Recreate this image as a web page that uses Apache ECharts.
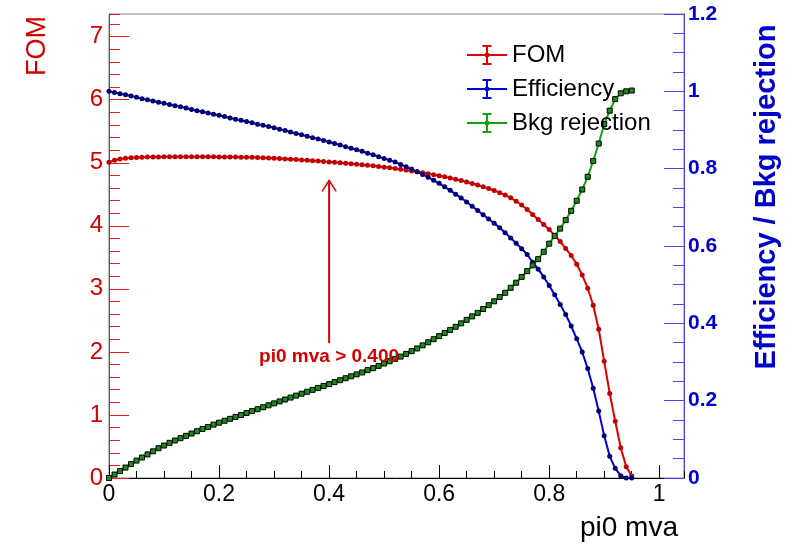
<!DOCTYPE html>
<html>
<head>
<meta charset="utf-8">
<script src="https://cdn.jsdelivr.net/npm/echarts@6/dist/echarts.min.js"></script>
<style>
html,body{margin:0;padding:0;background:#fff;}
#chart{width:792px;height:545px;}
</style>
</head>
<body>
<div id="chart"></div>
<script>
const xValues = [0.00,0.01,0.02,0.03,0.04,0.05,0.06,0.07,0.08,0.09,
  0.10,0.11,0.12,0.13,0.14,0.15,0.16,0.17,0.18,0.19,
  0.20,0.21,0.22,0.23,0.24,0.25,0.26,0.27,0.28,0.29,
  0.30,0.31,0.32,0.33,0.34,0.35,0.36,0.37,0.38,0.39,
  0.40,0.41,0.42,0.43,0.44,0.45,0.46,0.47,0.48,0.49,
  0.50,0.51,0.52,0.53,0.54,0.55,0.56,0.57,0.58,0.59,
  0.60,0.61,0.62,0.63,0.64,0.65,0.66,0.67,0.68,0.69,
  0.70,0.71,0.72,0.73,0.74,0.75,0.76,0.77,0.78,0.79,
  0.80,0.81,0.82,0.83,0.84,0.85,0.86,0.87,0.88,0.89,
  0.90,0.91,0.92,0.93,0.94,0.95];

const fomValues = [5.010,5.040,5.060,5.070,5.080,5.085,5.088,5.090,5.092,5.093,
  5.094,5.095,5.095,5.096,5.096,5.096,5.096,5.095,5.095,5.094,
  5.093,5.092,5.091,5.090,5.089,5.088,5.086,5.083,5.079,5.075,
  5.071,5.066,5.061,5.056,5.051,5.045,5.039,5.033,5.027,5.021,
  5.014,5.007,5.000,4.993,4.985,4.977,4.969,4.960,4.951,4.941,
  4.931,4.920,4.909,4.897,4.884,4.871,4.857,4.843,4.828,4.812,
  4.795,4.777,4.758,4.738,4.717,4.695,4.672,4.647,4.620,4.591,
  4.560,4.526,4.488,4.444,4.390,4.330,4.260,4.180,4.100,4.020,
  3.940,3.850,3.750,3.640,3.530,3.390,3.220,3.010,2.740,2.360,
  1.850,1.340,0.900,0.480,0.180,0.030];

const effValues = [1.000,0.997,0.994,0.991,0.988,0.985,0.981,0.978,0.975,0.972,
  0.969,0.966,0.963,0.960,0.957,0.953,0.950,0.947,0.944,0.941,
  0.938,0.935,0.931,0.928,0.925,0.922,0.919,0.915,0.912,0.909,
  0.906,0.902,0.899,0.895,0.891,0.888,0.884,0.880,0.877,0.873,
  0.869,0.865,0.861,0.857,0.853,0.849,0.845,0.840,0.836,0.831,
  0.826,0.822,0.817,0.811,0.805,0.799,0.792,0.785,0.778,0.770,
  0.762,0.753,0.744,0.734,0.724,0.714,0.703,0.692,0.681,0.670,
  0.659,0.647,0.634,0.621,0.607,0.593,0.578,0.558,0.540,0.520,
  0.498,0.474,0.449,0.423,0.393,0.360,0.326,0.283,0.232,0.173,
  0.109,0.056,0.025,0.006,0.000,0.000];

const bkgValues = [0.000,0.009,0.018,0.027,0.036,0.045,0.053,0.061,0.069,0.077,
  0.084,0.091,0.097,0.103,0.109,0.115,0.121,0.127,0.132,0.138,
  0.143,0.148,0.153,0.158,0.163,0.168,0.173,0.178,0.183,0.188,
  0.193,0.198,0.203,0.208,0.213,0.218,0.223,0.228,0.233,0.238,
  0.243,0.248,0.253,0.258,0.263,0.268,0.273,0.279,0.284,0.290,
  0.296,0.302,0.308,0.314,0.321,0.328,0.335,0.343,0.351,0.359,
  0.367,0.375,0.383,0.391,0.400,0.409,0.418,0.427,0.437,0.447,
  0.457,0.468,0.479,0.492,0.505,0.520,0.535,0.550,0.566,0.585,
  0.606,0.626,0.645,0.667,0.691,0.717,0.746,0.779,0.820,0.865,
  0.915,0.950,0.980,0.995,1.000,1.002];

const seriesNames = ['FOM', 'Efficiency', 'Bkg rejection'];
const cutValue = [0.4];
const cutArrowFom = [2.14, 4.72];
const cutLabel = 'pi0 mva > 0.400';
const xTitle = 'pi0 mva';
const yLeftTitle = 'FOM';
const yRightTitle = 'Efficiency / Bkg rejection';

const pairs = (vals) => xValues.map((x, i) => [x, vals[i]]);

const FONT = '"Liberation Sans", Arial, Helvetica, sans-serif';
const RED = '#d40000';
const BLUE = '#0000cc';
const ebIcon = 'path://M0 9H40V11H0Z M19 1H21V19H19Z M15.5 0H24.5V2H15.5Z M15.5 18H24.5V20H15.5Z M18 8H22V12H18Z';

const chart = echarts.init(document.getElementById('chart'), null, {renderer: 'canvas'});

const option = {
  animation: false,
  backgroundColor: '#ffffff',
  grid: {left: 109, right: 108, top: 14, bottom: 67, show: true, borderColor: '#808080', borderWidth: 1, backgroundColor: 'transparent'},
  legend: {
    show: true, orient: 'vertical', left: 467, top: 43, padding: 0,
    itemWidth: 40, itemHeight: 20, itemGap: 10,
    textStyle: {fontFamily: FONT, fontSize: 24, color: '#000'},
    data: [
      {name: seriesNames[0], icon: ebIcon, itemStyle: {color: '#e00000', borderWidth: 0}},
      {name: seriesNames[1], icon: ebIcon, itemStyle: {color: '#0000e0', borderWidth: 0}},
      {name: seriesNames[2], icon: ebIcon, itemStyle: {color: '#14a014', borderWidth: 0}}
    ]
  },
  xAxis: [
    {type: 'value', position: 'bottom', min: 0, max: 1.045, interval: 0.2,
     axisLine: {show: true, onZero: false, lineStyle: {color: '#000', width: 1}},
     axisTick: {show: true, inside: true, length: 13, lineStyle: {color: '#000'}},
     axisLabel: {show: true, margin: 5, showMaxLabel: false, fontFamily: FONT, fontSize: 23, color: '#000'},
     splitLine: {show: false}},
    {type: 'value', position: 'bottom', min: 0, max: 1.045, interval: 0.05,
     axisLine: {show: false, onZero: false},
     axisTick: {show: true, inside: true, length: 7, lineStyle: {color: '#000'}},
     axisLabel: {show: false}, splitLine: {show: false}}
  ],
  yAxis: [
    {type: 'value', position: 'left', min: 0, max: 7.36, interval: 1,
     axisLine: {show: true, onZero: false, lineStyle: {color: '#e02020', width: 1}},
     axisTick: {show: true, inside: true, length: 20, lineStyle: {color: '#e02020'}},
     axisLabel: {show: true, margin: 6, showMaxLabel: false, fontFamily: FONT, fontSize: 24, color: RED},
     splitLine: {show: false}},
    {type: 'value', position: 'left', min: 0, max: 7.36, interval: 0.2,
     axisLine: {show: false, onZero: false},
     axisTick: {show: true, inside: true, length: 11, lineStyle: {color: '#e02020'}},
     axisLabel: {show: false}, splitLine: {show: false}},
    {type: 'value', position: 'right', min: 0, max: 1.2, interval: 0.2,
     axisLine: {show: true, onZero: false, lineStyle: {color: '#4848e8', width: 1}},
     axisTick: {show: true, inside: true, length: 20, lineStyle: {color: '#4848e8'}},
     minorTick: {show: true, splitNumber: 4, length: 11, lineStyle: {color: '#4848e8'}},
     axisLabel: {show: true, margin: 4, fontFamily: FONT, fontSize: 21, fontWeight: 'bold', color: BLUE},
     splitLine: {show: false}}
  ],
  series: [
    {name: seriesNames[0], type: 'line', xAxisIndex: 0, yAxisIndex: 0, data: pairs(fomValues),
     color: '#e00000', lineStyle: {color: '#e00000', width: 2},
     symbol: 'circle', symbolSize: 5, itemStyle: {color: '#c00000'}, z: 3},
    {name: seriesNames[1], type: 'line', xAxisIndex: 0, yAxisIndex: 2, data: pairs(effValues),
     color: '#0000e0', lineStyle: {color: '#0000e0', width: 2},
     symbol: 'circle', symbolSize: 5, itemStyle: {color: '#000070'}, z: 3},
    {name: seriesNames[2], type: 'line', xAxisIndex: 0, yAxisIndex: 2, data: pairs(bkgValues),
     color: '#14a014', lineStyle: {color: '#14a014', width: 2},
     symbol: 'rect', symbolSize: 5, itemStyle: {color: '#1a8c1a', borderColor: '#000', borderWidth: 1}, z: 3},
    {name: 'cut', type: 'custom', xAxisIndex: 0, yAxisIndex: 0, silent: true, clip: false, z: 4,
     data: [[cutValue[0], cutArrowFom[0], cutArrowFom[1]]],
     renderItem: function (params, api) {
       const x = api.value(0);
       const p0 = api.coord([x, api.value(1)]);
       const p1 = api.coord([x, api.value(2)]);
       return {type: 'group', children: [
         {type: 'line', shape: {x1: p0[0], y1: p0[1], x2: p1[0], y2: p1[1]}, style: {stroke: '#e00000', lineWidth: 2}},
         {type: 'polyline', shape: {points: [[p1[0] - 7, p1[1] + 11], [p1[0], p1[1]], [p1[0] + 7, p1[1] + 11]]},
          style: {stroke: '#e00000', lineWidth: 1.5, fill: null}},
         {type: 'text', x: p0[0], y: p0[1] + 4,
          style: {text: cutLabel, align: 'center', verticalAlign: 'top', fontFamily: FONT, fontSize: 19, fontWeight: 'bold', fill: RED}}
       ]};
     }}
  ],
  graphic: [
    {type: 'text', x: 38, y: 46, rotation: Math.PI / 2,
     style: {text: yLeftTitle, align: 'center', verticalAlign: 'middle', fontFamily: FONT, fontSize: 27, fill: RED}},
    {type: 'text', x: 767, y: 197, rotation: Math.PI / 2,
     style: {text: yRightTitle, align: 'center', verticalAlign: 'middle', fontFamily: FONT, fontSize: 29, fontWeight: 'bold', fill: BLUE}},
    {type: 'text', x: 678, y: 528,
     style: {text: xTitle, align: 'right', verticalAlign: 'middle', fontFamily: FONT, fontSize: 28, fill: '#000'}}
  ]
};
chart.setOption(option);
</script>
</body>
</html>
